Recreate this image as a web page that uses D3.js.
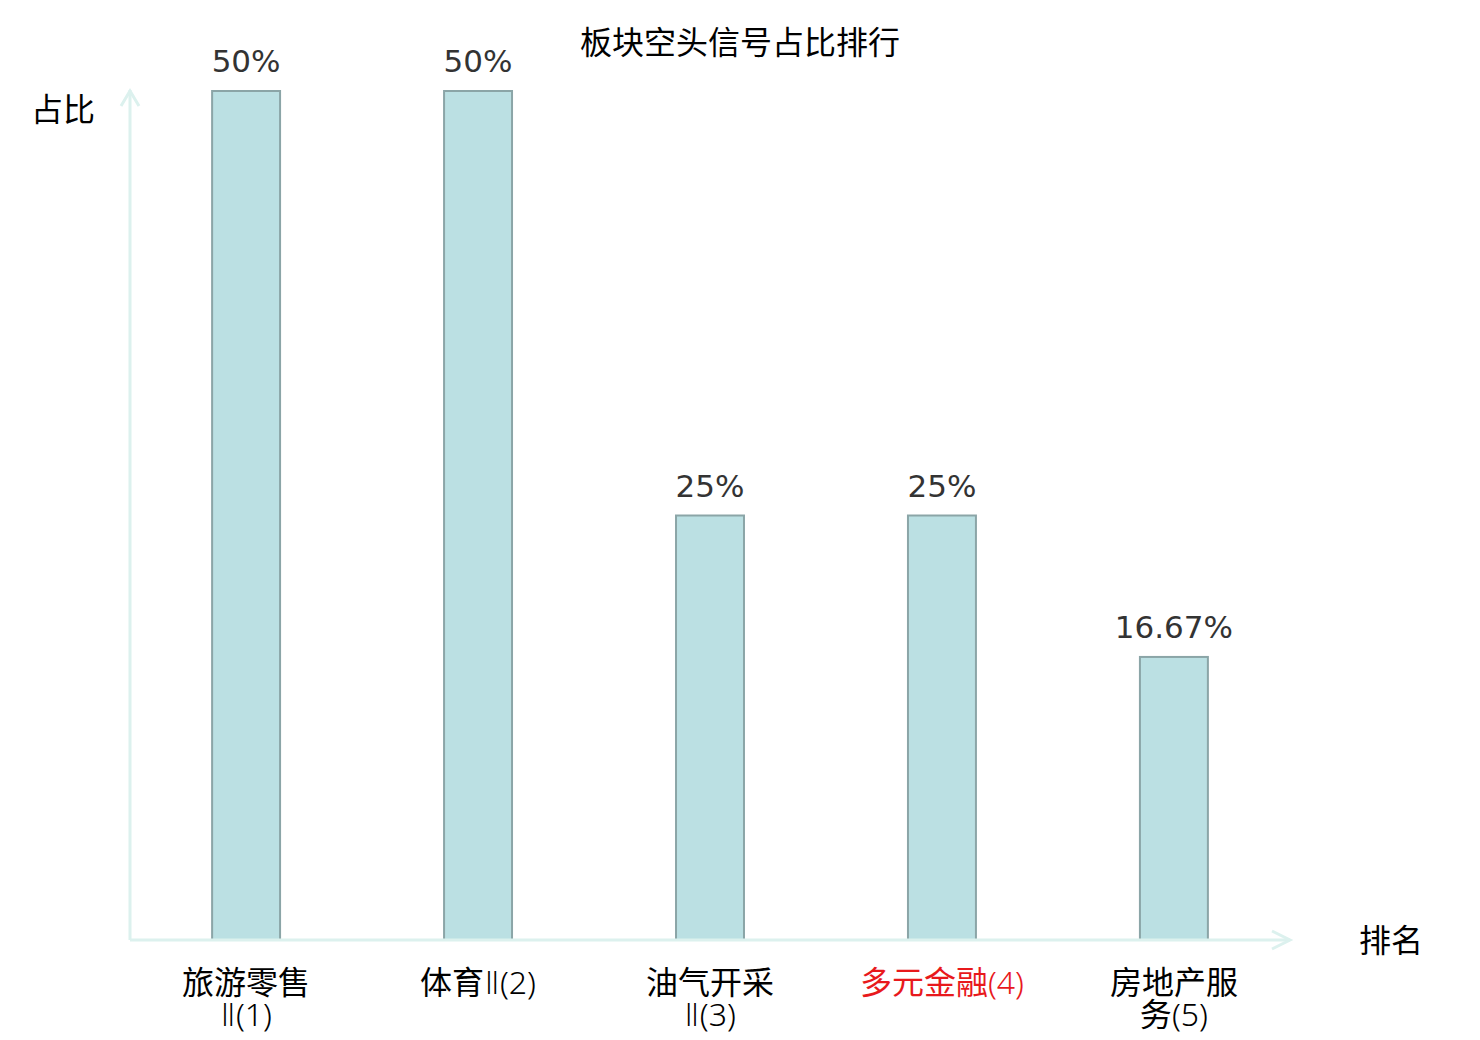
<!DOCTYPE html>
<html>
<head>
<meta charset="utf-8">
<script src="https://cdn.jsdelivr.net/npm/d3@7"></script>
<style>
  body { margin: 0; background: #fff; }
  svg { display: block; }
</style>
</head>
<body>
<div class="chart-container"></div>
<script>
// chart data
const categories = ['旅游零售Ⅱ(1)', '体育Ⅱ(2)', '油气开采Ⅱ(3)', '多元金融(4)', '房地产服务(5)'];
const values = [0.5, 0.5, 0.25, 0.25, 0.1667];
const valueLabels = ['50%', '50%', '25%', '25%', '16.67%'];
const highlighted = ['多元金融(4)'];

const W = 1480;
const H = 1040;
const margin = { top: 91, right: 190, bottom: 100, left: 130 };
const innerW = W - margin.left - margin.right;
const innerH = H - margin.top - margin.bottom;

const axisColor = '#dcf1ee';
const cjk = '"Noto Sans CJK SC", "DejaVu Sans", sans-serif';
const latin = '"Noto Sans", "Noto Sans CJK SC", sans-serif';
const roman = '"DejaVu Sans", "Noto Sans", sans-serif';

// scales
const xScale = d3.scaleBand()
    .domain(categories)
    .range([0, innerW])
    .paddingInner(0.707)
    .paddingOuter(0.354);

const yScale = d3.scaleLinear()
    .domain([0, 0.5])
    .range([innerH, 0]);

const svg = d3.select('.chart-container')
    .append('svg')
    .attr('width', W)
    .attr('height', H);

// title
svg.append('text')
    .attr('x', 740)
    .attr('y', 54)
    .attr('text-anchor', 'middle')
    .style('font-family', cjk)
    .style('font-size', '32px')
    .style('fill', '#000')
    .text('板块空头信号占比排行');

const g = svg.append('g')
    .attr('transform', `translate(${margin.left}, ${margin.top})`);

// bars
g.selectAll('.bar')
    .data(categories)
    .enter()
        .append('rect')
        .attr('class', 'bar')
        .attr('x', d => xScale(d))
        .attr('y', (d, i) => yScale(values[i]))
        .attr('width', xScale.bandwidth())
        .attr('height', (d, i) => innerH - yScale(values[i]))
        .style('fill', '#bbe0e3')
        .style('stroke', '#8ba5a7')
        .style('stroke-width', 2);

// value labels
g.selectAll('.value-label')
    .data(categories)
    .enter()
        .append('text')
        .attr('class', 'value-label')
        .attr('x', d => xScale(d) + xScale.bandwidth() / 2)
        .attr('y', (d, i) => yScale(values[i]) - 19)
        .attr('text-anchor', 'middle')
        .style('font-family', '"DejaVu Sans", sans-serif')
        .style('font-size', '31px')
        .style('fill', '#333')
        .text((d, i) => valueLabels[i]);

// axes
const xAxis = d3.axisBottom(xScale).tickSize(0).tickSizeOuter(0).tickPadding(0);
const xAxisDraw = g.append('g')
    .attr('class', 'x axis')
    .attr('transform', `translate(0, ${innerH})`)
    .call(xAxis);

xAxisDraw.select('.domain')
    .attr('d', `M0,0H${innerW}`)
    .style('stroke', axisColor)
    .style('stroke-width', 3);

// long labels break into lines of 4 characters
function splitLabel(d) {
    const chars = Array.from(d);
    if (chars.length <= 7) return [chars];
    const lines = [];
    for (let i = 0; i < chars.length; i += 4) lines.push(chars.slice(i, i + 4));
    return lines;
}

const charType = c => /[\u4e00-\u9fff]/.test(c) ? 'cjk' : (/[\u2160-\u217f]/.test(c) ? 'roman' : 'latin');
const runFont = { cjk: cjk, latin: latin, roman: roman };
const runWeight = { cjk: 400, latin: 300, roman: 200 };

xAxisDraw.selectAll('.tick text').each(function(d) {
    const t = d3.select(this)
        .attr('y', 54)
        .attr('dy', 0)
        .style('font-family', cjk)
        .style('font-size', '32px')
        .style('fill', highlighted.includes(d) ? '#e8191c' : '#000')
        .text(null);

    splitLabel(d).forEach((line, li) => {
        const lineSpan = t.append('tspan')
            .attr('x', 0)
            .attr('dy', li === 0 ? 0 : '32px');
        // split each line into runs of CJK and latin characters
        const runs = [];
        line.forEach(c => {
            const type = charType(c);
            if (runs.length && runs[runs.length - 1].type === type) runs[runs.length - 1].text += c;
            else runs.push({ type, text: c });
        });
        runs.forEach(r => {
            lineSpan.append('tspan')
                .style('font-family', runFont[r.type])
                .style('font-weight', runWeight[r.type])
                .text(r.text);
        });
    });
});

const yAxisDraw = g.append('g')
    .attr('class', 'y axis')
    .call(d3.axisLeft(yScale).ticks(0).tickSize(0).tickSizeOuter(0));

yAxisDraw.select('.domain')
    .attr('d', `M0,${innerH}V-1`)
    .style('stroke', axisColor)
    .style('stroke-width', 3);

// arrow heads
g.append('path')
    .attr('d', 'M-9,15L0,0L9,15')
    .style('fill', 'none')
    .style('stroke', axisColor)
    .style('stroke-width', 3);

g.append('path')
    .attr('d', `M${innerW - 18},${innerH - 9}L${innerW},${innerH}L${innerW - 18},${innerH + 9}`)
    .style('fill', 'none')
    .style('stroke', axisColor)
    .style('stroke-width', 3);

// axis names
svg.append('text')
    .attr('x', 63)
    .attr('y', 121)
    .attr('text-anchor', 'middle')
    .style('font-family', cjk)
    .style('font-size', '32px')
    .text('占比');

svg.append('text')
    .attr('x', 1391)
    .attr('y', 952)
    .attr('text-anchor', 'middle')
    .style('font-family', cjk)
    .style('font-size', '32px')
    .text('排名');
</script>
</body>
</html>
